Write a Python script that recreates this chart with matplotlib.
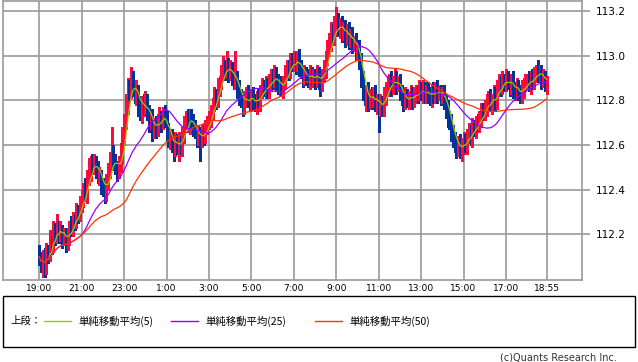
import numpy as np
import pandas as pd
import matplotlib
matplotlib.use("Agg")
import matplotlib.pyplot as plt
from matplotlib.lines import Line2D
from matplotlib.patches import Rectangle

# =============================================================================
#                        Data (5-min candles, 19:00 -> 18:55)
# =============================================================================

# closes per hour block (12 candles each)
close_blocks = [
    [112.10, 112.06, 112.09, 112.05, 112.12, 112.11, 112.17, 112.15, 112.22, 112.19, 112.24, 112.20],  # 19
    [112.22, 112.18, 112.20, 112.16, 112.19, 112.24, 112.22, 112.27, 112.26, 112.30, 112.29, 112.33],  # 20
    [112.36, 112.40, 112.38, 112.45, 112.48, 112.52, 112.50, 112.53, 112.49, 112.46, 112.47, 112.42],  # 21
    [112.40, 112.38, 112.44, 112.48, 112.52, 112.56, 112.53, 112.50, 112.48, 112.51, 112.56, 112.64],  # 22
    [112.70, 112.78, 112.86, 112.84, 112.89, 112.86, 112.82, 112.84, 112.78, 112.74, 112.79, 112.77],  # 23
    [112.80, 112.74, 112.70, 112.72, 112.66, 112.69, 112.67, 112.71, 112.73, 112.70, 112.74, 112.72],  # 0
    [112.66, 112.62, 112.64, 112.60, 112.58, 112.63, 112.60, 112.62, 112.59, 112.64, 112.70, 112.72],  # 1
    [112.69, 112.73, 112.70, 112.68, 112.66, 112.63, 112.65, 112.62, 112.66, 112.64, 112.68, 112.70],  # 2
    [112.72, 112.74, 112.78, 112.82, 112.80, 112.86, 112.88, 112.92, 112.95, 112.93, 112.96, 112.92],  # 3
    [112.94, 112.91, 112.88, 112.90, 112.85, 112.82, 112.80, 112.77, 112.80, 112.83, 112.81, 112.78],  # 4
    [112.82, 112.80, 112.78, 112.81, 112.79, 112.84, 112.86, 112.85, 112.87, 112.84, 112.88, 112.91],  # 5
    [112.89, 112.92, 112.88, 112.86, 112.87, 112.85, 112.88, 112.92, 112.95, 112.93, 112.97, 112.96],  # 6
    [112.98, 112.96, 112.99, 112.95, 112.93, 112.90, 112.92, 112.91, 112.89, 112.92, 112.90, 112.91],  # 7
    [112.89, 112.92, 112.90, 112.88, 112.91, 112.94, 112.99, 113.03, 113.06, 113.10, 113.08, 113.13],  # 8
    [113.15, 113.12, 113.14, 113.10, 113.12, 113.08, 113.11, 113.07, 113.09, 113.05, 113.06, 113.02],  # 9
    [113.03, 112.98, 112.90, 112.83, 112.81, 112.84, 112.79, 112.82, 112.80, 112.83, 112.78, 112.80],  # 10
    [112.77, 112.79, 112.76, 112.82, 112.85, 112.87, 112.89, 112.86, 112.88, 112.90, 112.87, 112.88],  # 11
    [112.84, 112.81, 112.79, 112.82, 112.80, 112.81, 112.83, 112.80, 112.82, 112.84, 112.83, 112.85],  # 12
    [112.83, 112.85, 112.82, 112.84, 112.83, 112.81, 112.84, 112.82, 112.85, 112.83, 112.84, 112.82],  # 13
    [112.83, 112.80, 112.76, 112.72, 112.70, 112.66, 112.63, 112.60, 112.58, 112.61, 112.57, 112.60],  # 14
    [112.62, 112.60, 112.64, 112.66, 112.63, 112.68, 112.67, 112.70, 112.69, 112.72, 112.75, 112.74],  # 15
    [112.77, 112.79, 112.81, 112.78, 112.80, 112.83, 112.79, 112.85, 112.88, 112.86, 112.89, 112.87],  # 16
    [112.90, 112.88, 112.86, 112.89, 112.85, 112.83, 112.86, 112.84, 112.82, 112.85, 112.87, 112.88],  # 17
    [112.89, 112.87, 112.90, 112.88, 112.92, 112.94, 112.91, 112.93, 112.89, 112.90, 112.87, 112.88],  # 18
]
first_open = 112.12

# upper / lower wick lengths in pips (0.01)
up_wick = [
    [3, 2, 4, 5, 4, 3, 5, 2, 4, 3, 5, 2],
    [4, 2, 3, 3, 4, 2, 4, 3, 2, 4, 3, 4],
    [4, 3, 5, 4, 6, 3, 4, 3, 2, 4, 3, 2],
    [3, 4, 3, 4, 5, 12, 4, 3, 3, 4, 5, 4],
    [4, 5, 4, 3, 6, 4, 3, 5, 3, 4, 3, 4],
    [4, 3, 4, 3, 4, 3, 4, 3, 4, 2, 3, 4],
    [3, 4, 3, 3, 4, 3, 2, 4, 3, 4, 3, 3],
    [4, 3, 3, 4, 3, 3, 4, 3, 3, 4, 3, 3],
    [3, 4, 3, 4, 3, 4, 3, 4, 5, 3, 6, 3],
    [4, 3, 3, 12, 3, 4, 3, 3, 4, 3, 4, 3],
    [3, 4, 3, 3, 4, 3, 4, 3, 4, 3, 4, 3],
    [3, 4, 3, 4, 3, 4, 3, 4, 3, 3, 4, 4],
    [4, 3, 3, 4, 3, 3, 4, 3, 3, 4, 3, 3],
    [3, 4, 3, 4, 3, 4, 3, 4, 4, 5, 4, 5],
    [7, 4, 3, 4, 3, 4, 3, 4, 3, 4, 3, 4],
    [3, 4, 3, 3, 4, 3, 4, 3, 4, 3, 4, 3],
    [3, 4, 3, 4, 3, 4, 3, 4, 3, 4, 3, 3],
    [4, 3, 3, 4, 3, 3, 4, 3, 4, 3, 3, 4],
    [3, 4, 3, 3, 4, 3, 3, 4, 3, 4, 3, 3],
    [3, 4, 3, 4, 3, 4, 3, 3, 4, 3, 4, 3],
    [4, 3, 3, 4, 3, 4, 3, 3, 4, 3, 4, 4],
    [3, 4, 3, 4, 3, 4, 3, 4, 4, 3, 4, 3],
    [4, 3, 4, 3, 4, 3, 4, 3, 3, 4, 3, 4],
    [3, 4, 3, 4, 3, 2, 4, 3, 3, 4, 3, 3],
]
dn_wick = [
    [4, 3, 5, 4, 3, 4, 3, 4, 3, 4, 3, 4],
    [3, 4, 3, 4, 3, 4, 3, 3, 4, 3, 4, 3],
    [3, 4, 3, 4, 3, 4, 3, 3, 4, 3, 4, 4],
    [3, 4, 3, 4, 3, 3, 4, 3, 4, 3, 3, 4],
    [4, 3, 4, 4, 3, 4, 3, 4, 5, 3, 4, 3],
    [4, 3, 4, 3, 4, 3, 4, 3, 3, 4, 3, 4],
    [4, 3, 4, 3, 5, 3, 4, 7, 3, 4, 3, 3],
    [3, 4, 3, 4, 3, 4, 3, 9, 3, 4, 3, 3],
    [3, 4, 3, 3, 4, 3, 4, 3, 3, 4, 3, 4],
    [3, 4, 3, 3, 4, 4, 3, 4, 3, 3, 4, 3],
    [3, 4, 3, 4, 3, 4, 3, 3, 4, 3, 3, 4],
    [4, 3, 4, 3, 4, 3, 4, 3, 3, 4, 3, 3],
    [3, 4, 3, 4, 3, 4, 3, 4, 3, 4, 3, 4],
    [4, 3, 5, 6, 4, 3, 4, 3, 3, 4, 3, 3],
    [4, 3, 4, 4, 3, 4, 3, 4, 3, 4, 3, 4],
    [4, 4, 4, 3, 3, 6, 4, 3, 4, 3, 3, 4],
    [11, 4, 3, 3, 4, 3, 3, 4, 3, 3, 4, 3],
    [4, 3, 4, 3, 3, 4, 3, 4, 3, 3, 4, 3],
    [3, 4, 3, 3, 4, 3, 4, 3, 3, 4, 3, 4],
    [3, 4, 4, 4, 3, 4, 4, 3, 4, 3, 3, 4],
    [4, 3, 4, 3, 3, 4, 3, 4, 3, 3, 4, 3],
    [3, 4, 3, 3, 4, 3, 4, 3, 3, 4, 3, 3],
    [3, 3, 4, 3, 4, 3, 3, 4, 3, 3, 4, 3],
    [3, 3, 4, 3, 3, 4, 3, 3, 4, 3, 3, 4],
]

tick_labels = ['19:00', '21:00', '23:00', '1:00', '3:00', '5:00', '7:00',
               '9:00', '11:00', '13:00', '15:00', '17:00', '18:55']
tick_pos = [0, 24, 48, 72, 96, 120, 144, 168, 192, 216, 240, 264, 287]
y_ticks = [112.2, 112.4, 112.6, 112.8, 113.0, 113.2]

ma_periods = [5, 25, 50]
ma_labels = ['単純移動平均(5)', '単純移動平均(25)', '単純移動平均(50)']
ma_colors = ['#99CC00', '#9900FF', '#FF3300']

# =============================================================================
#                              Build OHLC
# =============================================================================

aC = np.array(close_blocks).ravel()
aO = np.concatenate([[first_open], aC[:-1]])
aHi = np.maximum(aO, aC) + np.array(up_wick).ravel() * 0.01
aLo = np.minimum(aO, aC) - np.array(dn_wick).ravel() * 0.01
aX = np.arange(aC.shape[0])

sC = pd.Series(aC)
ma = [sC.rolling(n, min_periods=1).mean() for n in ma_periods]

# =============================================================================
#                                  Plots
# =============================================================================

plt.rcParams['font.family'] = ['DejaVu Sans']
grid_col = '#999999'
col_up, col_dn = '#FF0A3C', '#00349A'

fig = plt.figure(figsize=(6.38, 3.62), dpi=100)
ax = fig.add_axes([3/638, 1 - 280/362, 579/638, 279/362])

up = aC >= aO
cols = np.where(up, col_up, col_dn)
ax.vlines(aX, aLo, aHi, colors=cols, lw=0.8, zorder=2, antialiased=False)
body = np.maximum(np.abs(aC - aO), 0.004)
ax.bar(aX, body, bottom=np.minimum(aO, aC), width=0.75, color=cols,
       linewidth=0, zorder=2, antialiased=False)

for m, c in zip(ma, ma_colors):
    ax.plot(aX, m, color=c, lw=0.9, zorder=3)

ax.set_xlim(-20.5, 307)
ax.set_ylim(111.995, 113.245)
ax.set_xticks(tick_pos)
ax.set_xticklabels(tick_labels, fontsize=6.6)
ax.set_yticks(y_ticks)
ax.set_yticklabels(['%.1f' % v for v in y_ticks], fontsize=7.6)
ax.yaxis.tick_right()
ax.tick_params(axis='x', length=0, pad=3)
ax.tick_params(axis='y', length=6, width=1.2, color=grid_col, pad=4)
ax.grid(True, color=grid_col, lw=1.2, zorder=0)
ax.set_axisbelow(True)
for s in ax.spines.values():
    s.set_color(grid_col)
    s.set_linewidth(1.2)

# legend box
fig.patches.append(Rectangle((3/638, 1 - 347/362), 632/638, 51/362,
                             transform=fig.transFigure, fill=False,
                             edgecolor='black', lw=1))
y_leg = 1 - 321/362
fig.text(10/638, y_leg, '上段：', fontsize=7.5, va='center',
         family=['Noto Sans CJK JP', 'DejaVu Sans'])
for x0, lab, c in zip([44, 171, 315], ma_labels, ma_colors):
    fig.lines.append(Line2D([x0/638, (x0 + 27)/638], [y_leg, y_leg],
                            transform=fig.transFigure, color=c, lw=1))
    fig.text((x0 + 34)/638, y_leg, lab, fontsize=7.5, va='center',
             family=['Noto Sans CJK JP', 'DejaVu Sans'])

fig.text(617/638, 1 - 357/362, '(c)Quants Research Inc.', fontsize=7,
         ha='right', va='center', color='#333333')

fig.savefig('out.png', dpi=100)
